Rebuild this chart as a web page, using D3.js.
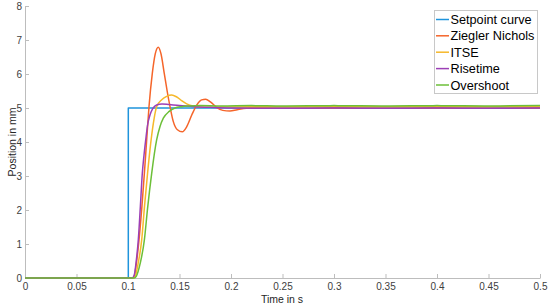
<!DOCTYPE html>
<html><head><meta charset="utf-8">
<script src="https://cdn.jsdelivr.net/npm/d3@7"></script>
<style>body{margin:0;background:#fff}svg{display:block}text{font-family:"Liberation Sans",Arial,sans-serif}</style>
</head><body>
<svg id="c" width="550" height="307"></svg>
<script>
const seriesNames = ["Setpoint curve","Ziegler Nichols","ITSE","Risetime","Overshoot"];
const seriesColors = ["#1f94dc","#f5652a","#f6b82a","#9c3fb6","#6cbf38"];
const xTicks = [0,0.05,0.1,0.15,0.2,0.25,0.3,0.35,0.4,0.45,0.5];
const xTickLabels = ["0","0.05","0.1","0.15","0.2","0.25","0.3","0.35","0.4","0.45","0.5"];
const yTicks = [0,1,2,3,4,5,6,7,8];

const setpointT = [0,0.1003,0.1003,0.5];
const setpointV = [0,0,5,5];

const znT = [0,0.104,0.106,0.108,0.1107,0.1135,0.1159,0.118,0.1204,0.1236,0.1265,0.1294,0.132,0.1352,0.138,0.1408,0.144,0.148,0.1527,0.157,0.162,0.167,0.1715,0.1754,0.18,0.186,0.192,0.199,0.206,0.215,0.23,0.26,0.3,0.35,0.4,0.45,0.5];
const znV = [0,0,0.05,0.4,1.12,2.1,3.08,4.0,5.04,6.02,6.6,6.79,6.6,6.02,5.5,5.04,4.6,4.36,4.30,4.45,4.8,5.1,5.24,5.26,5.18,5.02,4.93,4.91,4.95,4.99,5.0,4.99,5.0,4.99,5.0,4.99,5.0];

const itseT = [0,0.105,0.107,0.11,0.1133,0.116,0.119,0.122,0.1246,0.1278,0.133,0.1375,0.1424,0.147,0.152,0.157,0.165,0.175,0.19,0.22,0.26,0.3,0.35,0.4,0.45,0.5];
const itseV = [0,0,0.05,0.45,1.12,2.1,3.08,3.95,4.55,5.04,5.25,5.34,5.38,5.33,5.22,5.12,5.05,5.02,5.03,5.04,5.04,5.05,5.04,5.05,5.04,5.05];

const riseT = [0,0.104,0.106,0.108,0.110,0.112,0.1139,0.1155,0.1172,0.119,0.1214,0.124,0.1278,0.133,0.14,0.15,0.165,0.18,0.2,0.25,0.3,0.35,0.4,0.45,0.5];
const riseV = [0,0,0.08,0.5,1.12,2.1,3.08,3.6,4.06,4.5,4.8,4.98,5.09,5.12,5.1,5.07,5.04,5.02,5.0,4.99,5.0,4.99,5.0,4.99,5.0];

const overT = [0,0.106,0.108,0.112,0.1159,0.119,0.123,0.1278,0.131,0.1343,0.14,0.1456,0.152,0.16,0.17,0.19,0.22,0.25,0.3,0.35,0.4,0.45,0.5];
const overV = [0,0,0.05,0.45,1.12,2.05,3.08,4.06,4.45,4.7,4.9,5.0,5.04,5.06,5.07,5.06,5.07,5.06,5.07,5.06,5.07,5.06,5.07];

const allT = [setpointT,znT,itseT,riseT,overT];
const allV = [setpointV,znV,itseV,riseV,overV];

const svg = d3.select("#c");
const x = d3.scaleLinear().domain([0,0.5]).range([25,540]);
const y = d3.scaleLinear().domain([0,8]).range([278,6]);
const axisCol = "#bdbdbd", textCol = "#404040";

const gx = svg.append("g").attr("transform","translate(0,278)")
  .call(d3.axisBottom(x).tickValues(xTicks).tickFormat((d,i)=>xTickLabels[i]).tickSizeInner(-4).tickSizeOuter(0).tickPadding(5));
const gy = svg.append("g").attr("transform","translate(25,0)")
  .call(d3.axisLeft(y).tickValues(yTicks).tickSizeInner(-4).tickSizeOuter(0).tickPadding(3));
[gx,gy].forEach(g=>{
  g.select(".domain").attr("stroke",axisCol);
  g.selectAll(".tick line").attr("stroke",axisCol);
  g.selectAll(".tick text").attr("fill",textCol).style("font-size","10px").style("font-family","'Liberation Sans',Arial,sans-serif");
});

svg.append("text").attr("x",282).attr("y",303).attr("text-anchor","middle")
  .attr("fill","#262626").style("font-size","10.5px").text("Time in s");
svg.append("text").attr("transform","translate(16,142) rotate(-90)").attr("text-anchor","middle")
  .attr("fill","#262626").style("font-size","10.5px").text("Position in mm");

const line = d3.line().x(d=>x(d[0])).y(d=>y(d[1]));
const lineSmooth = d3.line().x(d=>x(d[0])).y(d=>y(d[1])).curve(d3.curveMonotoneX);
allT.forEach((ts,i)=>{
  const pts = ts.map((t,j)=>[t,allV[i][j]]);
  svg.append("path").datum(pts).attr("fill","none").attr("stroke",seriesColors[i])
    .attr("stroke-width",1.5).attr("stroke-linejoin","round")
    .attr("d", i===0 ? line(pts) : lineSmooth(pts));
});

// legend
const lg = svg.append("g");
lg.append("rect").attr("x",434.5).attr("y",10.5).attr("width",103).attr("height",83)
  .attr("fill","#fff").attr("stroke","#c8c8c8").attr("stroke-width",1);
const rowY = [19.5,35.8,52.2,68.6,85];
seriesNames.forEach((n,i)=>{
  lg.append("line").attr("x1",436).attr("x2",449).attr("y1",rowY[i]).attr("y2",rowY[i])
    .attr("stroke",seriesColors[i]).attr("stroke-width",1.5);
  lg.append("text").attr("x",450.5).attr("y",rowY[i]).attr("dy","0.36em")
    .attr("fill","#000").style("font-size","12.7px").text(n);
});
</script>
</body></html>
